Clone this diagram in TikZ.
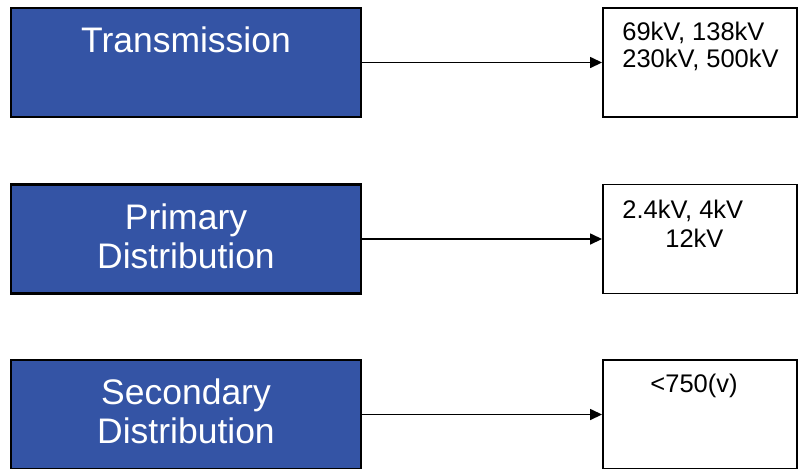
\documentclass[tikz,border=0pt]{standalone}
\usepackage{fontspec}
\setmainfont{Liberation Sans}
\usetikzlibrary{arrows.meta}
\definecolor{boxblue}{RGB}{52,84,165}

\begin{document}
\begin{tikzpicture}[x=0.02cm, y=-0.02cm,
   level/.style={draw=black, line width=1.2pt, fill=boxblue, text=white,
      minimum width=7.0cm, minimum height=2.18cm, inner sep=0pt, align=center,
      text depth=0.12cm, font=\fontsize{20.2}{22.1}\selectfont},
   volts/.style={draw=black, line width=1.1pt, fill=white,
      minimum width=3.88cm, minimum height=2.18cm, inner sep=0pt},
   vtext/.style={inner sep=0pt, anchor=base west, font=\fontsize{14.5}{15.5}\selectfont},
   feed/.style={line width=0.85pt, -{Triangle[length=0.24cm, width=0.22cm]}}]

   \useasboundingbox (0,0) rectangle (799,468);

   % 送電
   \node [level] (trans) at (186,62.5) {Transmission\\~};
   \node [volts] (transv) at (700,62.5) {};
   \node [vtext] at (622,40) {69kV, 138kV};
   \node [vtext] at (622,67) {230kV, 500kV};
   \draw [feed] (trans) -- (transv);

   % 一次配電
   \node [level] (prim) at (186,239) {Primary\\Distribution};
   \node [volts] (primv) at (700,239) {};
   \node [vtext] at (622,218) {2.4kV, 4kV};
   \node [vtext] at (665,247) {12kV};
   \draw [feed] (prim) -- (primv);

   % 二次配電
   \node [level] (sec) at (186,414.5) {Secondary\\Distribution};
   \node [volts] (secv) at (700,414.5) {};
   \node [vtext, anchor=base] at (694,392) {<750(v)};
   \draw [feed] (sec) -- (secv);

\end{tikzpicture}
\end{document}
